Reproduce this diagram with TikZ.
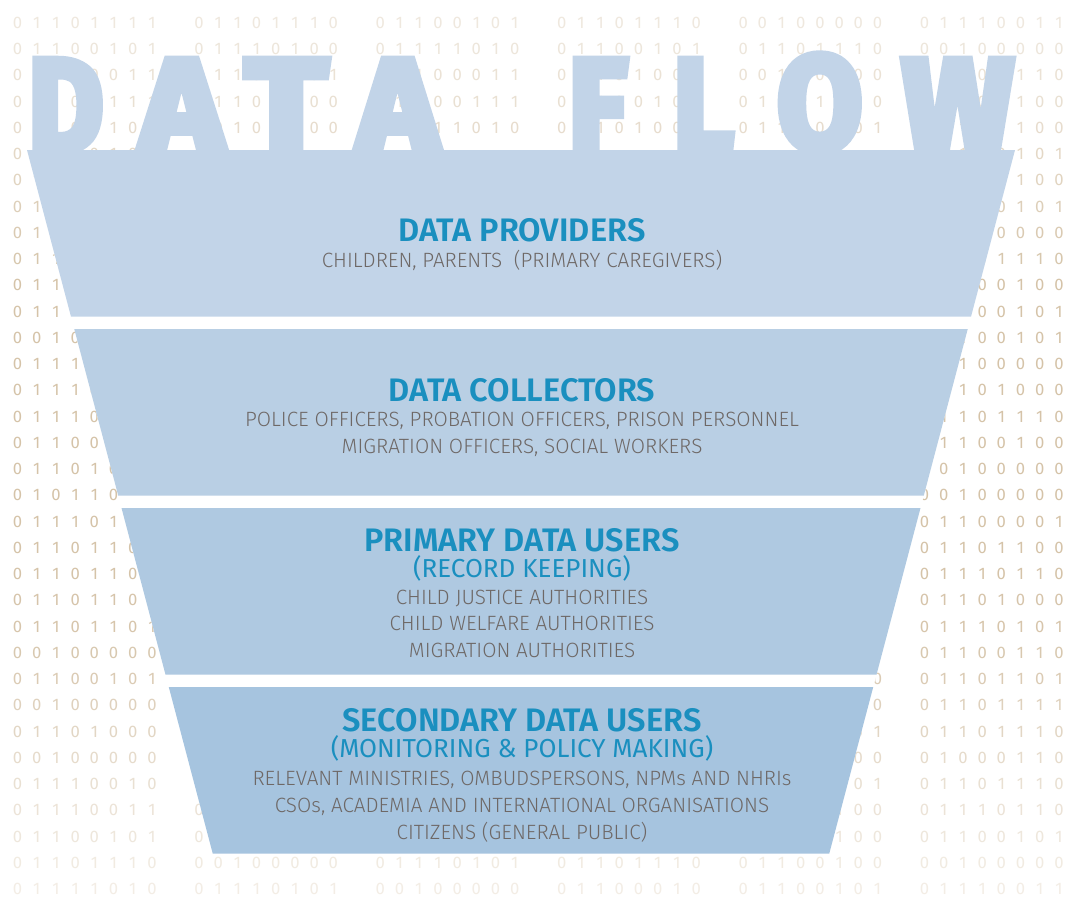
\documentclass[tikz,border=0pt]{standalone}
\usepackage{fontspec}
\usepackage{graphicx}
\newfontfamily\freg{Fira Sans}
\IfFontExistsTF{Fira Sans Light}{\newfontfamily\flight{Fira Sans Light}}{\newfontfamily\flight{Fira Sans}}
\IfFontExistsTF{Fira Sans SemiBold}{\newfontfamily\fsemi{Fira Sans SemiBold}}{\newcommand\fsemi{\freg\bfseries}}
\newfontfamily\fheavy{Fira Sans}[FakeBold=6]
\definecolor{bandA}{HTML}{C2D4E8}
\definecolor{bandB}{HTML}{B9CFE4}
\definecolor{bandC}{HTML}{AFC9E1}
\definecolor{bandD}{HTML}{A6C4DF}
\definecolor{headc}{HTML}{1A8FBF}
\definecolor{bodyc}{HTML}{6E6866}
\definecolor{digitc}{HTML}{D5C3A8}
\def\bitloop#1{\ifx\relax#1\else\makebox[14.4pt]{#1}\expandafter\bitloop\fi}
\def\bitsof#1{\edef\bittmp{#1}\expandafter\bitloop\bittmp\relax}
\def\hiddencell{-}
\tikzset{
  bits/.style={anchor=base west, inner sep=0pt, font=\freg\fontsize{12.5}{12.5}\selectfont},
  bigletter/.style={anchor=south west, inner sep=0pt, text=bandA},
  head/.style={anchor=base, inner sep=0pt, text=headc, font=\fsemi\fontsize{24.4}{24.4}\selectfont},
  subhead/.style={anchor=base, inner sep=0pt, text=headc, font=\freg\fontsize{19.5}{19.5}\selectfont},
  bodytext/.style={anchor=base, inner sep=0pt, text=bodyc, font=\flight\fontsize{15.5}{15.5}\selectfont},
}
\begin{document}
\begin{tikzpicture}[x=0.75pt,y=-0.75pt, declare function={hw(\y)=494-0.264*(\y-150);}]
\useasboundingbox (0,0) rectangle (1069,897);
\fill[white] (0,0) rectangle (1069,897);
% binary background (cells wholly hidden by the funnel are marked -)
\foreach \r/\a/\b/\c/\d/\e/\f/\o in {
1/01101111/01101110/01100101/01101110/00100000/01110011/38,
2/01100101/01110100/01111010/01100101/01101110/00100000/42,
3/01110011/01101001/01100011/01101000/00100000/01100110/48,
4/01101111/01101100/01100111/01100101/01101110/01100100/52,
5/01100101/00100000/01011010/01101001/01100101/01101100/58,
6/01100101/-/-/-/-/01100101/65,
7/01101110/-/-/-/-/01100100/72,
8/01101001/-/-/-/-/01100101/80,
9/01100101/-/-/-/-/00100000/88,
10/01101110/-/-/-/-/01101110/94,
11/01101100/-/-/-/-/01100100/100,
12/01100101/-/-/-/-/01100101/100,
13/00100000/-/-/-/-/01100101/100,
14/01110101/-/-/-/-/00100000/100,
15/01110010/-/-/-/-/01101000/100,
16/01110100/-/-/-/-/01101110/100,
17/01100011/-/-/-/-/01100100/100,
18/01101000/-/-/-/-/00100000/100,
19/01011010/-/-/-/-/00100000/100,
20/01110100/-/-/-/-/01100001/100,
21/01101100/-/-/-/-/01101100/100,
22/01101100/-/-/-/-/01110110/100,
23/01101100/-/-/-/-/01101000/98,
24/01101101/-/-/-/-/01110101/96,
25/00100000/-/-/-/-/01100110/92,
26/01100101/-/-/-/01101110/01101101/86,
27/00100000/-/-/-/01101110/01101111/76,
28/01101000/-/-/-/01101001/01101110/68,
29/00100000/-/-/-/01100100/01000110/60,
30/01110010/-/-/-/01100101/01101110/52,
31/01110011/00100000/-/-/01101100/01110110/46,
32/01100101/01110010/-/-/01100100/01100101/40,
33/01101110/00100000/01110101/01101110/01100100/00100000/34,
34/01111010/01110101/00100000/01100010/01100101/01110011/30}{
  \pgfmathsetmacro\yy{22.5+(\r-1)*26.25+5.9}
  \foreach \s [count=\i from 0] in {\a,\b,\c,\d,\e,\f}{
    \edef\cell{\s}
    \ifx\cell\hiddencell\else
      \node[bits, text=digitc!\o!white] (b\r-\i) at ({7.7+\i*181.4},\yy) {\bitsof{\s}};
    \fi
  }
}
% big title letters
\node[bigletter] (tD) at (28,152) {\resizebox{56.25pt}{69pt}{\fheavy\bfseries D}};
\node[bigletter] (tA1) at (140,152) {\resizebox{62.25pt}{69pt}{\fheavy\bfseries A}};
\node[bigletter] (tT) at (245,152) {\resizebox{61.5pt}{69pt}{\fheavy\bfseries T}};
\node[bigletter] (tA2) at (357,152) {\resizebox{60.75pt}{69pt}{\fheavy\bfseries A}};
\node[bigletter] (tF) at (568,152) {\resizebox{44.25pt}{69pt}{\fheavy\bfseries F}};
\node[bigletter] (tL) at (673,152) {\resizebox{45pt}{69pt}{\fheavy\bfseries L}};
\node[bigletter] (tO) at (777,152) {\resizebox{63.75pt}{71.25pt}{\fheavy\bfseries O}};
\node[bigletter] (tW) at (902,152) {\resizebox{83.25pt}{69pt}{\fheavy\bfseries W}};
% funnel underlay (white gaps)
\fill[white] ({521-hw(150)},150) -- ({521+hw(150)},150) -- ({521+hw(853.5)},853.5) -- ({521-hw(853.5)},853.5) -- cycle;
% bands
\fill[bandA] ({521-hw(150)},150) -- ({521+hw(150)},150) -- ({521+hw(316.5)},316.5) -- ({521-hw(316.5)},316.5) -- cycle;
\fill[bandB] ({521-hw(329)},329) -- ({521+hw(329)},329) -- ({521+hw(495.5)},495.5) -- ({521-hw(495.5)},495.5) -- cycle;
\fill[bandC] ({521-hw(508)},508) -- ({521+hw(508)},508) -- ({521+hw(674.5)},674.5) -- ({521-hw(674.5)},674.5) -- cycle;
\fill[bandD] ({521-hw(687)},687) -- ({521+hw(687)},687) -- ({521+hw(853.5)},853.5) -- ({521-hw(853.5)},853.5) -- cycle;
% texts
\node[head] (h1) at (522,241) {DATA PROVIDERS};
\node[bodytext] (t1a) at (522,267.3) {CHILDREN, PARENTS~~(PRIMARY CAREGIVERS)};
\node[head] (h2) at (522,401.7) {DATA COLLECTORS};
\node[bodytext] (t2a) at (522,426) {POLICE OFFICERS, PROBATION OFFICERS, PRISON PERSONNEL};
\node[bodytext] (t2b) at (522,453.3) {MIGRATION OFFICERS, SOCIAL WORKERS};
\node[head] (h3) at (522,551) {PRIMARY DATA USERS};
\node[subhead] (s3) at (522,577.3) {(RECORD KEEPING)};
\node[bodytext] (t3a) at (522,604) {CHILD JUSTICE AUTHORITIES};
\node[bodytext] (t3b) at (522,630.7) {CHILD WELFARE AUTHORITIES};
\node[bodytext] (t3c) at (522,657.7) {MIGRATION AUTHORITIES};
\node[head] (h4) at (522,731.7) {SECONDARY DATA USERS};
\node[subhead] (s4) at (522,757.3) {(MONITORING \& POLICY MAKING)};
\node[bodytext] (t4a) at (522,785) {RELEVANT MINISTRIES, OMBUDSPERSONS, NPMs AND NHRIs};
\node[bodytext] (t4b) at (522,812.3) {CSOs, ACADEMIA AND INTERNATIONAL ORGANISATIONS};
\node[bodytext] (t4c) at (522,839) {CITIZENS (GENERAL PUBLIC)};
\end{tikzpicture}
\end{document}
